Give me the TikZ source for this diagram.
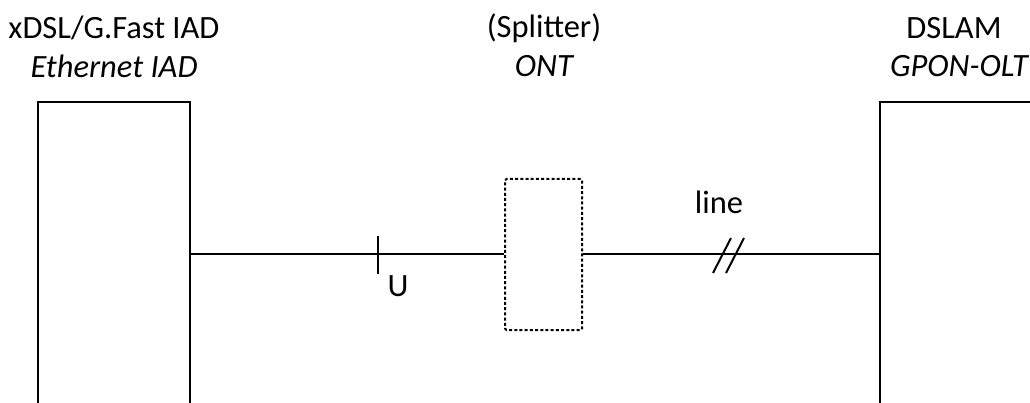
\documentclass[tikz,border=0pt]{standalone}
\usepackage{fontspec}
\setmainfont{Carlito}
\begin{document}
\begin{tikzpicture}[x=1pt,y=-1pt,
  wire/.style={line width=2pt},
  device/.style={draw,line width=2pt,rectangle,inner sep=0pt},
  passive/.style={draw,line width=2pt,rectangle,inner sep=0pt,rounded corners=1.5pt,dash pattern=on 3pt off 2.2pt},
  lbl/.style={font=\fontsize{32.5}{38}\selectfont,inner sep=0pt},
  ilbl/.style={font=\fontsize{32.5}{38}\selectfont\itshape,inner sep=0pt}]
\useasboundingbox (0,0) rectangle (1030,403);

% end devices (their lower parts run off the page)
\node[device,minimum width=152pt,minimum height=340pt] (iad) at (114,272) {};
\node[device,minimum width=200pt,minimum height=340pt] (dslam) at (980,272) {};
% splitter / ONT
\node[passive,minimum width=77pt,minimum height=151pt] (ont) at (543.5,254.5) {};

% titles
\node[lbl] (t1) at (114,28) {xDSL/G.Fast IAD};
\node[ilbl] (t2) at (114,66) {Ethernet IAD};
\node[lbl] (t3) at (544,28) {(Splitter)};
\node[ilbl] (t4) at (544,66) {ONT};
\node[lbl] (t5) at (954,28) {DSLAM};
\node[ilbl] (t6) at (959,66) {GPON-OLT};

% links
\coordinate (iadport) at (iad.east |- 0,254);
\coordinate (dslamport) at (dslam.west |- 0,254);
\draw[wire] (iadport) -- (ont.west |- iadport);
\draw[wire] (ont.east |- dslamport) -- (dslamport);

% U reference point
\coordinate (utop) at (378,236);
\coordinate (ubot) at (378,274);
\draw[wire] (utop) -- (ubot);
\node[lbl] (u) at (398,286) {U};

% line marker
\coordinate (s1a) at (713,273);
\coordinate (s1b) at (731,238);
\coordinate (s2a) at (726,273);
\coordinate (s2b) at (744,238);
\draw[wire] (s1a) -- (s1b);
\draw[wire] (s2a) -- (s2b);
\node[lbl] (ln) at (719,202) {line};
\end{tikzpicture}
\end{document}
